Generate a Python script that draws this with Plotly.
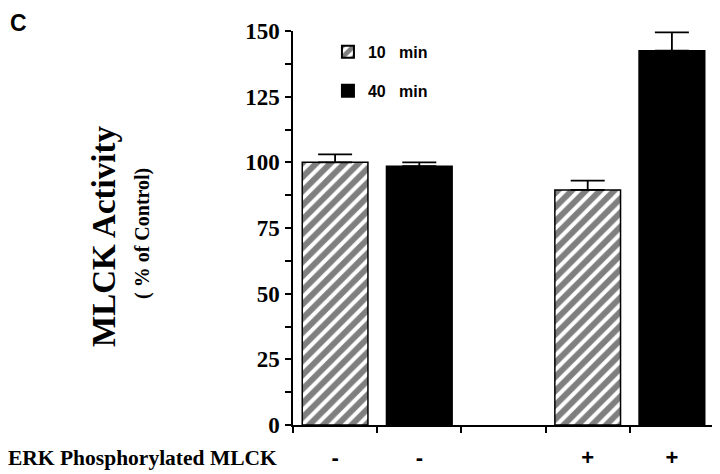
import plotly.graph_objects as go

categories = ["c1", "c2", "c3", "c4", "c5"]
tick_labels = ["-", "-", "", "+", "+"]
series_names = ["10   min", "40   min"]
values_10 = [100, None, None, 89.5, None]
err_10 = [3, None, None, 3.5, None]
values_40 = [None, 98.5, None, None, 142.5]
err_40 = [None, 1.5, None, None, 7]
y_ticks = [0, 25, 50, 75, 100, 125, 150]

serif = "Liberation Serif"
sans = "Liberation Sans"

# the page body adds an 8px offset, so the figure is 8px smaller on each axis
W, H = 712, 466

fig = go.Figure()
fig.add_trace(go.Bar(
    x=categories, y=values_10, name=series_names[0],
    marker=dict(color="white", line=dict(color="black", width=1.5),
                pattern=dict(shape="/", fgcolor="black", bgcolor="white", size=10, solidity=0.6)),
    error_y=dict(type="data", symmetric=False, array=err_10, arrayminus=[0]*5,
                 color="black", thickness=1.8, width=17),
    width=0.78, legendgroup="a",
))
fig.add_trace(go.Bar(
    x=categories, y=values_40, name=series_names[1],
    marker=dict(color="black", line=dict(color="black", width=1.5)),
    error_y=dict(type="data", symmetric=False, array=err_40, arrayminus=[0]*5,
                 color="black", thickness=1.8, width=17),
    width=0.78, legendgroup="b",
))

fig.update_layout(
    width=W, height=H,
    margin=dict(l=285, r=6, t=23, b=49),
    plot_bgcolor="white", paper_bgcolor="white",
    barmode="overlay",
    showlegend=True,
    legend=dict(x=0.083, y=0.99, xanchor="left", yanchor="top",
                font=dict(family=sans, size=16, color="black", weight="bold"),
                bgcolor="rgba(0,0,0,0)", tracegroupgap=15, itemsizing="constant"),
    xaxis=dict(
        type="category", categoryorder="array", categoryarray=categories,
        tickmode="array", tickvals=categories, ticktext=tick_labels,
        tickson="boundaries", ticks="outside", ticklen=6, tickwidth=1.5, tickcolor="black",
        showline=True, linecolor="black", linewidth=1.5,
        showgrid=False, zeroline=False,
        tickfont=dict(family=sans, size=22, color="black", weight="bold"),
        ticklabelstandoff=12, automargin=False,
        range=[-0.5, 4.5],
    ),
    yaxis=dict(
        range=[0, 150], tickmode="array", tickvals=y_ticks,
        ticks="outside", ticklen=6, tickwidth=1.5, tickcolor="black",
        minor=dict(dtick=12.5, ticks="outside", ticklen=6, tickwidth=1.5, tickcolor="black", showgrid=False),
        showline=True, linecolor="black", linewidth=1.5,
        showgrid=False, zeroline=False,
        tickfont=dict(family=serif, size=23, color="black", weight="bold"),
        ticklabelstandoff=1, automargin=False,
    ),
    annotations=[
        dict(text="C", xref="paper", yref="paper", x=(8-293)/421, y=(425-8)/394,
             xanchor="left", yanchor="top", showarrow=False,
             font=dict(family=sans, size=23, color="black", weight="bold")),
        dict(text="MLCK Activity", xref="paper", yref="paper", x=(104-293)/421, y=(425-237)/394,
             textangle=-90, showarrow=False, xanchor="center", yanchor="middle",
             font=dict(family=serif, size=33, color="black", weight="bold")),
        dict(text="( % of Control)", xref="paper", yref="paper", x=(143-293)/421, y=(425-234)/394,
             textangle=-90, showarrow=False, xanchor="center", yanchor="middle",
             font=dict(family=serif, size=20, color="black", weight="bold")),
        dict(text="ERK Phosphorylated MLCK", xref="paper", yref="paper", x=(6-293)/421, y=(425-458)/394,
             showarrow=False, xanchor="left", yanchor="middle",
             font=dict(family=serif, size=21.5, color="black", weight="bold")),
    ],
)

fig.write_html("out.html")
